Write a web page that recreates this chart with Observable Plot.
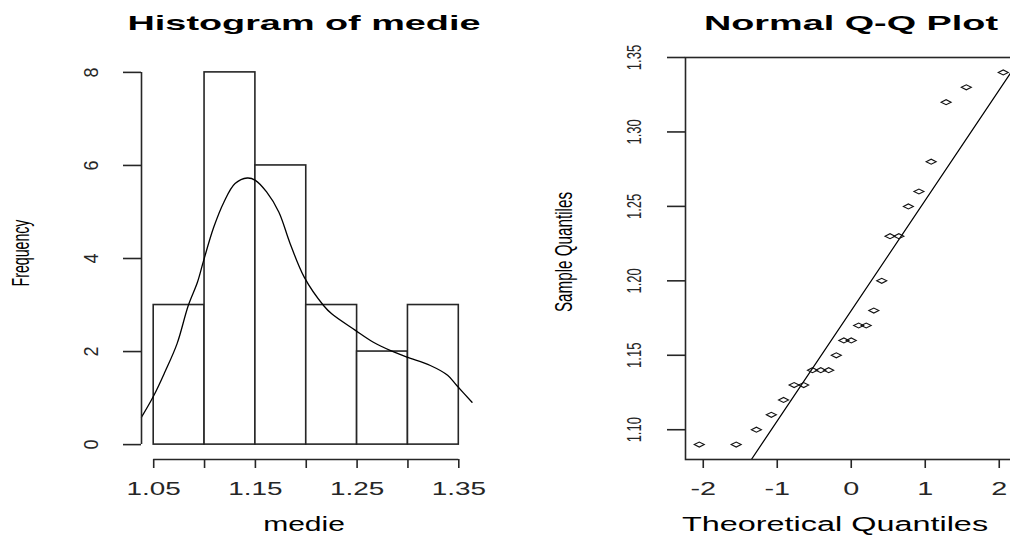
<!DOCTYPE html>
<html>
<head>
<meta charset="utf-8">
<script src="https://cdn.jsdelivr.net/npm/d3@7"></script>
<script src="https://cdn.jsdelivr.net/npm/@observablehq/plot@0.6"></script>
<style>
html, body { margin: 0; padding: 0; background: #fff; overflow: hidden; }
#wrap { position: relative; width: 1010px; height: 537px; overflow: hidden; background: #fff;
        font-family: "Liberation Sans", Arial, sans-serif; color: #000; }
.pane { position: absolute; top: 0; }
.t { position: absolute; white-space: nowrap; line-height: 1; }
</style>
</head>
<body>
<div id="wrap">
  <div id="left" class="pane" style="left:0;width:505px"></div>
  <div id="right" class="pane" style="left:505px;width:512px"></div>
  <div class="t" style="left:304px;top:11.7px;font-size:21px;font-weight:bold;transform:translateX(-50%) scaleX(1.8)">Histogram of medie</div>
  <div class="t" style="left:850.8px;top:11.7px;font-size:21px;font-weight:bold;transform:translateX(-50%) scaleX(1.8)">Normal Q-Q Plot</div>
  <div class="t" style="left:304px;top:514px;font-size:20px;transform:translateX(-50%) scaleX(1.5)">medie</div>
  <div class="t" style="left:835px;top:513.8px;font-size:20px;transform:translateX(-50%) scaleX(1.62)">Theoretical Quantiles</div>
  <div class="t" style="left:20.6px;top:253.3px;font-size:24px;transform:translate(-50%,-50%) rotate(-90deg) scaleX(0.59)">Frequency</div>
  <div class="t" style="left:563.9px;top:251.7px;font-size:24px;transform:translate(-50%,-50%) rotate(-90deg) scaleX(0.634)">Sample Quantiles</div>
</div>
<script>
// ---------- Histogram data ----------
const binLo  = [1.05, 1.10, 1.15, 1.20, 1.25, 1.30];
const binHi  = [1.10, 1.15, 1.20, 1.25, 1.30, 1.35];
const counts = [3, 8, 6, 3, 2, 3];

// density curve (scaled to frequency)
const densX = [1.038, 1.050, 1.061, 1.073, 1.084, 1.093, 1.099, 1.109, 1.119, 1.130, 1.142, 1.150,
               1.161, 1.173, 1.184, 1.198, 1.217, 1.225, 1.248, 1.266, 1.283, 1.299, 1.322, 1.339, 1.348, 1.363];
const densY = [0.59, 1.05, 1.56, 2.17, 2.99, 3.49, 3.95, 4.67, 5.21, 5.61, 5.73, 5.68,
               5.43, 5.00, 4.33, 3.60, 2.99, 2.81, 2.46, 2.20, 2.02, 1.88, 1.70, 1.49, 1.27, 0.91];

const histXTicks  = [1.05, 1.10, 1.15, 1.20, 1.25, 1.30, 1.35];
const histXLabels = ["1.05", "", "1.15", "", "1.25", "", "1.35"];
const histYTicks  = [0, 2, 4, 6, 8];
const histYLabels = ["0", "2", "4", "6", "8"];

// ---------- Q-Q data ----------
const qqTheo = [-2.054, -1.555, -1.282, -1.080, -0.915, -0.772, -0.643, -0.524, -0.412, -0.305, -0.202, -0.100, 0,
                0.100, 0.202, 0.305, 0.412, 0.524, 0.643, 0.772, 0.915, 1.080, 1.282, 1.555, 2.054];
const qqSample = [1.09, 1.09, 1.10, 1.11, 1.12, 1.13, 1.13, 1.14, 1.14, 1.14, 1.15, 1.16, 1.16,
                  1.17, 1.17, 1.18, 1.20, 1.23, 1.23, 1.25, 1.26, 1.28, 1.32, 1.33, 1.34];
const qqLineIntercept = 1.18;
const qqLineSlope = 0.0741;
const qqXTicks  = [-2, -1, 0, 1, 2];
const qqXLabels = ["-2", "-1", "0", "1", "2"];
const qqYTicks  = [1.10, 1.15, 1.20, 1.25, 1.30, 1.35];
const qqYLabels = ["1.10", "1.15", "1.20", "1.25", "1.30", "1.35"];

// ---------- helpers ----------
const lab = (ticks, labels) => { const m = new Map(ticks.map((t, i) => [t, labels[i]])); return d => m.get(d) ?? ""; };
const ink = "#262626";
const baseStyle = {fontFamily: "Liberation Sans, Arial, sans-serif", background: "transparent", maxWidth: "none", overflow: "visible"};

function stretchText(svg, kh, kr) {
  svg.querySelectorAll("text").forEach(t => {
    const tr = t.getAttribute("transform");
    if (tr) {
      const k = /rotate/.test(tr) ? kr : kh;
      t.setAttribute("transform", tr + ` scale(${k},1)`);
    } else {
      const x = parseFloat(t.getAttribute("x")) || 0, y = parseFloat(t.getAttribute("y")) || 0;
      t.removeAttribute("x"); t.removeAttribute("y");
      t.setAttribute("transform", `translate(${x},${y}) scale(${kh},1)`);
    }
  });
}

// ---------- Histogram ----------
const bins = counts.map((n, i) => ({lo: binLo[i], hi: binHi[i], n}));
const dens = densX.map((x, i) => ({x, y: densY[i]}));
const histDomX = [1.038, 1.362];
const histDomY = [-0.32, 8.32];

const hist = Plot.plot({
  width: 505, height: 537,
  marginLeft: 141, marginRight: 34.5, marginTop: 57, marginBottom: 78,
  x: {domain: histDomX},
  y: {domain: histDomY},
  style: baseStyle,
  marks: [
    Plot.rectY(bins, {x1: "lo", x2: "hi", y: "n", fill: "white", stroke: ink, strokeWidth: 1.6, inset: 0}),
    Plot.line(dens, {x: "x", y: "y", stroke: "#000", strokeWidth: 1.3, curve: "catmull-rom"}),
    Plot.ruleX([histDomX[0]], {y1: histYTicks[0], y2: histYTicks[histYTicks.length - 1], stroke: ink, strokeWidth: 1.6}),
    Plot.ruleY([histDomY[0]], {x1: histXTicks[0], x2: histXTicks[histXTicks.length - 1], stroke: ink, strokeWidth: 1.6}),
    Plot.axisY(histYTicks, {anchor: "left", tickSize: 18, tickPadding: 26, tickRotate: -90, fontSize: 20,
      label: null, color: ink, strokeWidth: 1.6, tickFormat: lab(histYTicks, histYLabels)}),
    Plot.axisX(histXTicks, {anchor: "bottom", tickSize: 9, tickPadding: 14, fontSize: 18,
      label: null, color: ink, strokeWidth: 1.6, tickFormat: lab(histXTicks, histXLabels)})
  ]
});
document.getElementById("left").appendChild(hist);
stretchText(hist, 1.55, 0.9);

// ---------- Q-Q plot ----------
const qqDomX = [-2.24, 2.24];
const qqDomY = [1.08, 1.35];
const qqPts = qqTheo.map((x, i) => ({x, y: qqSample[i]}));
const qqLine = qqDomX.map(x => ({x, y: qqLineIntercept + qqLineSlope * x}));
const wideDiamond = {
  draw(ctx, size) {
    const r = Math.sqrt(size / Math.PI);
    ctx.moveTo(-r, 0); ctx.lineTo(0, -r * 0.5); ctx.lineTo(r, 0); ctx.lineTo(0, r * 0.5); ctx.closePath();
  }
};

const qq = Plot.plot({
  width: 512, height: 537,
  marginLeft: 180, marginRight: 0.5, marginTop: 57, marginBottom: 78,
  x: {domain: qqDomX},
  y: {domain: qqDomY},
  style: baseStyle,
  marks: [
    Plot.line(qqLine, {x: "x", y: "y", stroke: "#000", strokeWidth: 1.2, clip: true}),
    Plot.dot(qqPts, {x: "x", y: "y", r: 5, symbol: wideDiamond, stroke: "#111", strokeWidth: 1.1, fill: "none"}),
    Plot.frame({stroke: ink, strokeWidth: 1.6}),
    Plot.axisY(qqYTicks, {anchor: "left", tickSize: 18, tickPadding: 27, tickRotate: -90, fontSize: 20,
      label: null, color: ink, strokeWidth: 1.6, tickFormat: lab(qqYTicks, qqYLabels)}),
    Plot.axisX(qqXTicks, {anchor: "bottom", tickSize: 9, tickPadding: 14, fontSize: 18,
      label: null, color: ink, strokeWidth: 1.6, tickFormat: lab(qqXTicks, qqXLabels)})
  ]
});
document.getElementById("right").appendChild(qq);
stretchText(qq, 1.6, 0.65);
</script>
</body>
</html>
